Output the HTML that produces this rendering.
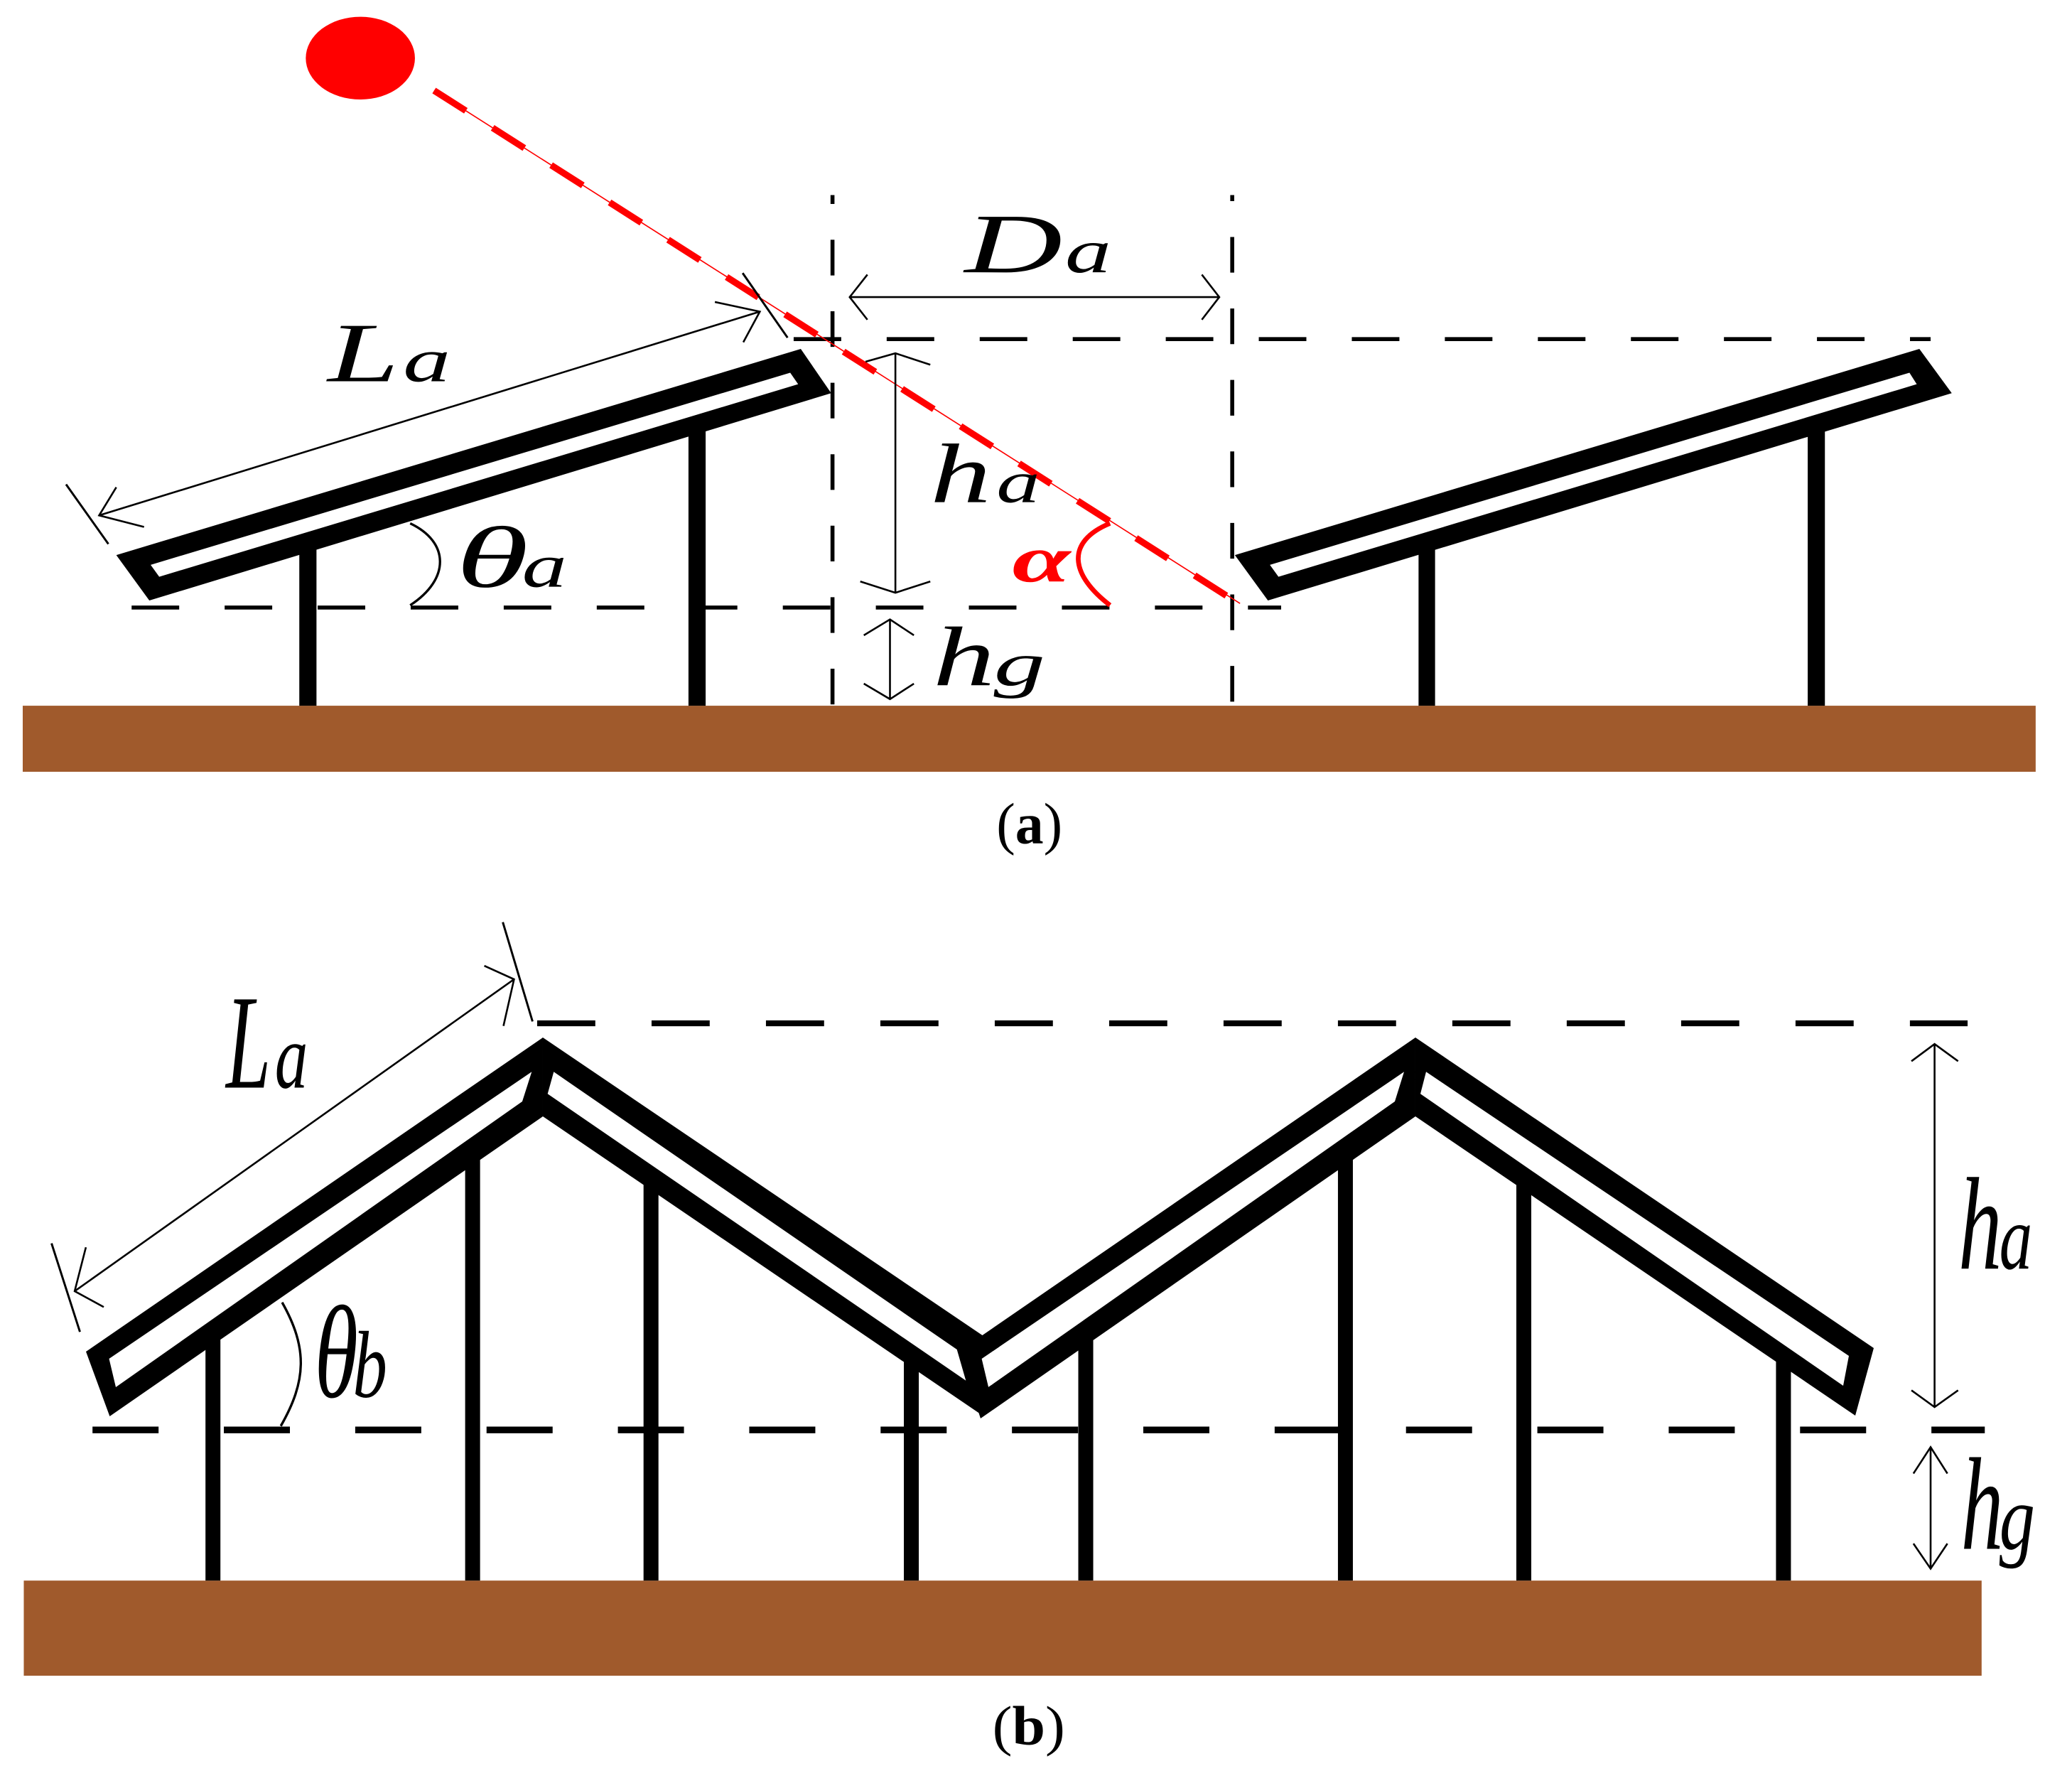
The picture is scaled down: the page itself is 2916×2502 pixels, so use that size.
<!DOCTYPE html>
<html lang="en">
<head>
<meta charset="utf-8">
<title>Solar panel row spacing diagram</title>
<style>
html,body{margin:0;padding:0;background:#fff;width:2916px;height:2502px;overflow:hidden}
svg{display:block}
text{font-family:"Liberation Serif",serif;fill:#000}
.i{font-style:italic}
.thin{fill:none;stroke:#000;stroke-width:1.4}
.tick{fill:none;stroke:#000;stroke-width:1.6}
</style>
</head>
<body>
<svg xmlns="http://www.w3.org/2000/svg" width="2916" height="2502" viewBox="0 0 1568 1345.37">
<rect width="1568" height="1345.37" fill="#fff"/>

<!-- Panel (a) -->
<rect x="17.200" y="534" width="1523.300" height="50" fill="#a05a2c"/>
<g fill="#000">
<rect x="226.500" y="414" width="13" height="120"/>
<rect x="521" y="326" width="13" height="208"/>
<rect x="1073.500" y="414" width="12.500" height="120"/>
<rect x="1368" y="326" width="13" height="208"/>
<path fill-rule="evenodd" d="M88 420L606 264L629 297.500L113 454.400ZM114 427.400L598 282L604 290.700L120.500 436.400Z"/>
<path fill-rule="evenodd" d="M934.500 420L1452.500 264L1477 297.500L959.500 454.400ZM961 427.400L1445 282L1450.500 290.700L967.500 436.400Z"/>
</g>
<g fill="none" stroke="#000" stroke-width="3">
<path d="M600.600 256.600H1461" stroke-dasharray="36 34.400"/>
<path d="M99.600 459.700H969.500" stroke-dasharray="36 34.400"/>
<path d="M630 147.600V534" stroke-dasharray="27 27.100" stroke-dashoffset="20.300"/>
<path d="M932.500 147.600V534" stroke-dasharray="27 27.100" stroke-dashoffset="22.400"/>
</g>
<ellipse cx="272.700" cy="44" rx="41.300" ry="31.300" fill="#f00"/>
<path d="M328.500 68.500L938.400 456.600" fill="none" stroke="#f00" stroke-width="0.900"/>
<path d="M328.500 68.500L930.100 452" fill="none" stroke="#f00" stroke-width="5" stroke-dasharray="28.500 24"/>

<!-- dimension arrows (a) -->
<path class="thin" d="M75 390L575 235.800M88 368.700L75 390L109 398.700M541 228.500L575 235.800L562.500 259"/>
<path class="tick" d="M50 366.500L82 411.600M562 206.600L596 255.500"/>
<path class="thin" d="M643 224.800H922.700M656.400 207.800L643 224.800L656.400 241.900M909.500 207.800L922.700 224.800L909.500 241.900"/>
<path class="thin" d="M677.600 267.300V448.500M655 273.700L677.600 267.300L704 276M651 440L677.600 448.500L704 440"/>
<path class="thin" d="M673.500 468.700V529M653.700 480.700L673.500 468.700L691.600 480.700M653.700 517.300L673.500 529L691.600 517.300"/>
<path d="M310.400 396C340 410 341 438 310.400 458" fill="none" stroke="#000" stroke-width="1.800"/>
<path d="M840 396C806 410 810 435 840 458" fill="none" stroke="#f00" stroke-width="3.600"/>

<text class="i" x="248" y="288.500" font-size="64" textLength="54" lengthAdjust="spacingAndGlyphs">L</text>
<text class="i" x="305" y="288.500" font-size="47" textLength="36" lengthAdjust="spacingAndGlyphs">a</text>
<text class="i" x="730" y="206" font-size="64" textLength="74" lengthAdjust="spacingAndGlyphs">D</text>
<text class="i" x="806" y="206" font-size="47" textLength="35" lengthAdjust="spacingAndGlyphs">a</text>
<text class="i" x="704" y="380" font-size="64" textLength="46" lengthAdjust="spacingAndGlyphs">h</text>
<text class="i" x="754" y="380" font-size="45" textLength="33" lengthAdjust="spacingAndGlyphs">a</text>
<text class="i" x="706" y="518.500" font-size="64" textLength="47" lengthAdjust="spacingAndGlyphs">h</text>
<text class="i" x="752" y="518.500" font-size="47" textLength="39" lengthAdjust="spacingAndGlyphs">g</text>
<text class="i" x="345" y="444" font-size="66" textLength="55" lengthAdjust="spacingAndGlyphs">θ</text>
<text class="i" x="395" y="444" font-size="47" textLength="34" lengthAdjust="spacingAndGlyphs">a</text>
<text class="i" x="766" y="440" font-size="50" font-weight="bold" textLength="44" lengthAdjust="spacingAndGlyphs" style="fill:#f00">α</text>
<text x="754" y="638" font-size="44" textLength="50" lengthAdjust="spacingAndGlyphs">(<tspan font-weight="bold">a</tspan>)</text>

<!-- Panel (b) -->
<rect x="18" y="1196" width="1481.600" height="72" fill="#a05a2c"/>
<g fill="#000">
<rect x="155.500" y="1012" width="11.300" height="184"/>
<rect x="352" y="870" width="11.300" height="326"/>
<rect x="487" y="890" width="11.300" height="306"/>
<rect x="684" y="1028" width="11.300" height="168"/>
<rect x="816" y="1008" width="11.300" height="188"/>
<rect x="1012.500" y="870" width="11.300" height="326"/>
<rect x="1147.500" y="890" width="11.300" height="306"/>
<rect x="1344" y="1028" width="11.300" height="168"/>
</g>
<g fill="none" stroke="#000">
<path d="M406.500 774.300H1489" stroke-width="4.400" stroke-dasharray="44 42.570"/>
<path d="M70 1082H1502" stroke-width="5" stroke-dasharray="50 49.400"/>
</g>
<g transform="scale(0.53772)" fill="#000" fill-rule="evenodd">
<path d="M764 1460L1409 1897L1383 1992L764 1571ZM779.300 1508.300L770.700 1539.300L1359.300 1942.700L1346.700 1899Z"/>
<path d="M1992 1460L2637 1897L2611 1992L1992 1571ZM2007 1508.300L1999 1539.300L2594 1950L2602 1908Z"/>
<path fill="#fff" d="M1381.500 1912L1976 1508.300L1963 1550L1391 1952Z"/>
<path d="M121 1902L764 1460L764 1571L154.400 1993ZM153.500 1912L748.300 1508.300L735 1550L163 1952Z"/>
<path d="M1349 1902L1992 1460L1992 1571L1380 1996ZM1381.500 1912L1976 1508.300L1963 1550L1391 1952Z"/>
</g>

<!-- dimension arrows (b) -->
<path class="thin" d="M56.500 977L389 741M65 943.800L56.500 977L78.500 989M366.500 730.800L389 741L381 776.300"/>
<path class="tick" d="M39 940.800L60.500 1007.800M380.500 697.800L403 772.900"/>
<path d="M213.500 985.500C233 1020 232 1045 212.500 1079" fill="none" stroke="#000" stroke-width="1.800"/>
<path class="thin" d="M1464 790V1064.700M1446.500 803L1464 790L1481.800 803M1446.500 1052L1464 1064.700L1481.800 1052"/>
<path class="thin" d="M1461 1095V1187M1448 1115L1461 1095L1473.700 1115M1448 1168L1461 1187L1473.700 1168"/>

<text class="i" x="171" y="823" font-size="102" textLength="34" lengthAdjust="spacingAndGlyphs">L</text>
<text class="i" x="208" y="823" font-size="70" textLength="25" lengthAdjust="spacingAndGlyphs">a</text>
<text class="i" x="238" y="1057" font-size="100" textLength="33" lengthAdjust="spacingAndGlyphs">θ</text>
<text class="i" x="267" y="1057" font-size="72" textLength="26" lengthAdjust="spacingAndGlyphs">b</text>
<text class="i" x="1482" y="960" font-size="100" textLength="33" lengthAdjust="spacingAndGlyphs">h</text>
<text class="i" x="1513" y="960" font-size="70" textLength="25" lengthAdjust="spacingAndGlyphs">a</text>
<text class="i" x="1484" y="1172" font-size="100" textLength="32" lengthAdjust="spacingAndGlyphs">h</text>
<text class="i" x="1513" y="1172" font-size="70" textLength="27" lengthAdjust="spacingAndGlyphs">g</text>
<text x="751" y="1320" font-size="42" textLength="55" lengthAdjust="spacingAndGlyphs">(<tspan font-weight="bold">b</tspan>)</text>
</svg>
</body>
</html>
